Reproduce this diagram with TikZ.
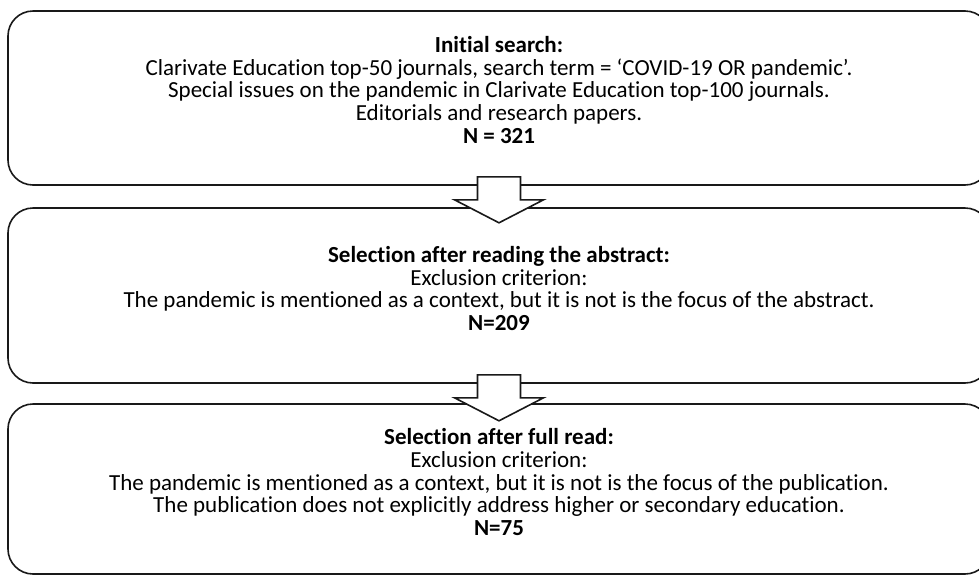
\documentclass[tikz,border=0pt]{standalone}
\usepackage{fontspec}
\setmainfont{Carlito}[Ligatures=NoCommon]
\usepackage{tikz}
\usetikzlibrary{calc}

\begin{document}
\begin{tikzpicture}[x=1pt,y=-1pt,line width=1.6pt,draw=black!90]
    \tikzstyle{stage}=[draw,rounded corners=25pt,minimum width=982pt,inner sep=0pt]
    \tikzstyle{stage text}=[align=center,font=\fontsize{23}{22.8}\selectfont]
    \tikzstyle{flow arrow}=[draw,fill=white,line join=miter]

    \newcommand{\stagex}{499}
    \newcommand{\flowarrow}[1]{%
        \draw[flow arrow] ($(#1.south)+(-21.5,-9)$) -- ++(43,0) -- ++(0,23)
            -- ++(23,0) -- ($(#1.south)+(0,37)$) -- ++(-44.5,-23) -- ++(23,0) -- cycle;}

    \useasboundingbox (0,0) rectangle (979,574);
    \clip (0,0) rectangle (979,574);

    % Draw the stage boxes
    \node[stage, minimum height=174pt] (search) at (\stagex,98) {};
    \node[stage, minimum height=175pt] (abstract) at (\stagex,295.5) {};
    \node[stage, minimum height=170pt] (fullread) at (\stagex,489) {};

    % Write the text of each stage
    \node[stage text] (search-text) at ([yshift=8pt]search.center)
        {\textbf{Initial search:}\\
         Clarivate Education top-50 journals, search term = ‘COVID-19 OR pandemic’.\\
         Special issues on the pandemic in Clarivate Education top-100 journals.\\
         Editorials and research papers.\\
         \textbf{N = 321}};
    \node[stage text] (abstract-text) at ([yshift=7pt]abstract.center)
        {\textbf{Selection after reading the abstract:}\\
         Exclusion criterion:\\
         The pandemic is mentioned as a context, but it is not is the focus of the abstract.\\
         \textbf{N=209}};
    \node[stage text] (fullread-text) at ([yshift=7pt]fullread.center)
        {\textbf{Selection after full read:}\\
         Exclusion criterion:\\
         The pandemic is mentioned as a context, but it is not is the focus of the publication.\\
         The publication does not explicitly address higher or secondary education.\\
         \textbf{N=75}};

    % Connect the stages with block arrows
    \flowarrow{search}
    \flowarrow{abstract}
\end{tikzpicture}
\end{document}
